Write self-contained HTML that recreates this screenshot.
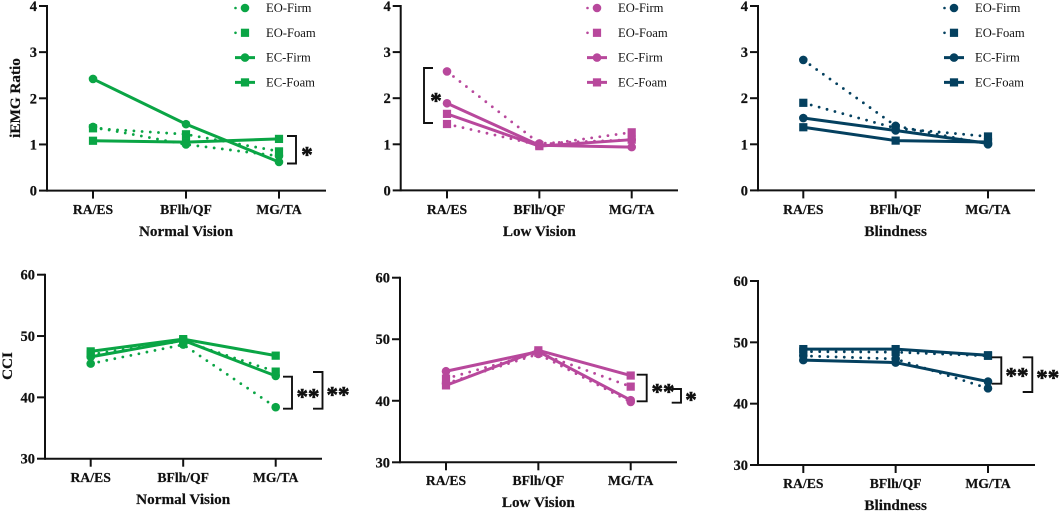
<!DOCTYPE html>
<html lang="en">
<head>
<meta charset="utf-8">
<title>iEMG Ratio and CCI by vision condition</title>
<style>
html,body{margin:0;padding:0;background:#fff;}
svg{display:block;}
text{font-family:"Liberation Serif",serif;fill:#111;}
.b{font-weight:bold;stroke:#111;stroke-width:0.2px;}
.s{font-weight:bold;stroke:#111;stroke-width:0.6px;}
</style>
</head>
<body>
<svg id="chart" xmlns="http://www.w3.org/2000/svg" width="1059" height="512" viewBox="0 0 1059 512"></svg>
<script>
const categories = ['RA/ES', 'BFlh/QF', 'MG/TA'];
const seriesNames = ['EO-Firm', 'EO-Foam', 'EC-Firm', 'EC-Foam'];
const iemgTicks = [0, 1, 2, 3, 4];
const cciTicks = [30, 40, 50, 60];

const normalIemgEoFirm = [1.38, 1.00, 0.75];
const normalIemgEoFoam = [1.35, 1.22, 0.85];
const normalIemgEcFirm = [2.42, 1.44, 0.62];
const normalIemgEcFoam = [1.08, 1.05, 1.12];

const lowIemgEoFirm = [2.58, 1.02, 1.10];
const lowIemgEoFoam = [1.44, 0.98, 1.26];
const lowIemgEcFirm = [1.89, 0.98, 0.94];
const lowIemgEcFoam = [1.66, 0.96, 1.10];

const blindIemgEoFirm = [2.83, 1.40, 1.00];
const blindIemgEoFoam = [1.90, 1.35, 1.17];
const blindIemgEcFirm = [1.57, 1.30, 1.02];
const blindIemgEcFoam = [1.37, 1.08, 1.05];

const normalCciEoFirm = [45.5, 48.6, 38.4];
const normalCciEoFoam = [47.0, 49.2, 44.2];
const normalCciEcFirm = [46.6, 49.3, 43.5];
const normalCciEcFoam = [47.5, 49.5, 46.8];

const lowCciEoFirm = [42.8, 47.6, 39.8];
const lowCciEoFoam = [43.6, 47.8, 42.3];
const lowCciEcFirm = [44.8, 48.0, 40.1];
const lowCciEcFoam = [42.5, 48.2, 44.1];

const blindCciEoFirm = [47.8, 47.3, 42.5];
const blindCciEoFoam = [48.5, 48.4, 47.8];
const blindCciEcFirm = [47.1, 46.7, 43.6];
const blindCciEcFoam = [48.9, 48.9, 47.9];

const GREEN = '#0aa545';
const MAGENTA = '#b8489c';
const NAVY = '#04405f';
const svg = document.getElementById('chart');
const NS = 'http://www.w3.org/2000/svg';

function make(tag, attrs, parent, text) {
  const el = document.createElementNS(NS, tag);
  for (const k in attrs) el.setAttribute(k, attrs[k]);
  if (text !== undefined) el.textContent = text;
  parent.appendChild(el);
  return el;
}

function drawMarker(parent, shape, cx, cy, color) {
  let m;
  if (shape === 'circle') {
    m = make('circle', {cx: cx, cy: cy, r: 4.3, fill: color}, parent);
  } else {
    m = make('rect', {x: cx - 4.1, y: cy - 4.1, width: 8.2, height: 8.2, fill: color}, parent);
  }
  return m;
}

function drawBracket(parent, x1, x2, y1, y2) {
  const p = make('path', {d: 'M' + x1 + ' ' + y1 + 'H' + x2 + 'V' + y2 + 'H' + x1, fill: 'none', stroke: '#111', 'stroke-width': 1.9}, parent);
  
  
}

function drawStars(parent, x, y, label) {
  const t = make('text', {x: x, y: y + 10.5, 'text-anchor': 'middle', 'font-size': 23, class: 's'}, parent, label);
  
  
}

function drawPanel(cfg) {
  const g = make('g', {}, svg);
  
  

  const yMin = cfg.ticks[0];
  const yMax = cfg.ticks[cfg.ticks.length - 1];
  const yScale = v => cfg.yBottom + (v - yMin) / (yMax - yMin) * (cfg.yTop - cfg.yBottom);
  const xScale = i => cfg.xFirst + i * (cfg.xLast - cfg.xFirst) / (categories.length - 1);

  const yAxis = make('line', {x1: cfg.axisX, x2: cfg.axisX, y1: cfg.yTop - 1, y2: cfg.yBottom + 1, stroke: '#111', 'stroke-width': 2}, g);
  
  
  const xAxis = make('line', {x1: cfg.axisX, x2: cfg.xEnd, y1: cfg.yBottom, y2: cfg.yBottom, stroke: '#111', 'stroke-width': 2}, g);
  
  

  cfg.ticks.forEach(v => {
    const y = yScale(v);
    const tick = make('line', {x1: cfg.axisX - 8, x2: cfg.axisX, y1: y, y2: y, stroke: '#111', 'stroke-width': 2}, g);
    
    
    const lab = make('text', {x: cfg.axisX - 10, y: y + 5, 'text-anchor': 'end', 'font-size': 14.5, class: 'b'}, g, String(v));
    
    
  });

  categories.forEach((c, i) => {
    const x = xScale(i);
    const tick = make('line', {x1: x, x2: x, y1: cfg.yBottom, y2: cfg.yBottom + 8, stroke: '#111', 'stroke-width': 2}, g);
    
    
    const lab = make('text', {x: x, y: cfg.tickBase, 'text-anchor': 'middle', 'font-size': 13.7, class: 'b'}, g, c);
    
    
  });

  const xt = make('text', {x: xScale(1), y: cfg.titleBase, 'text-anchor': 'middle', 'font-size': 15.2, class: 'b'}, g, cfg.title);
  
  

  if (cfg.yTitle) {
    const yt = make('text', {x: 0, y: 0, transform: 'translate(' + cfg.yTitleX + ' ' + cfg.yTitleY + ') rotate(-90)', 'text-anchor': 'middle', 'font-size': 15.2, class: 'b'}, g, cfg.yTitle);
    
    
  }

  cfg.series.forEach((vals, s) => {
    const dotted = s < 2;
    const shape = s % 2 === 0 ? 'circle' : 'square';
    const sg = make('g', {}, g);
    
    
    const pts = vals.map((v, i) => xScale(i) + ',' + yScale(v)).join(' ');
    const line = make('polyline', dotted
      ? {points: pts, fill: 'none', stroke: cfg.color, 'stroke-width': 2.8, 'stroke-linecap': 'round', 'stroke-dasharray': '0 8.2'}
      : {points: pts, fill: 'none', stroke: cfg.color, 'stroke-width': 3}, sg);
    
    
    vals.forEach((v, i) => {
      const m = drawMarker(sg, shape, xScale(i), yScale(v), cfg.color);
      
      
    });
  });

  if (cfg.legendX) {
    const lg = make('g', {}, g);
    
    
    seriesNames.forEach((n, s) => {
      const y = 8 + s * 24.8;
      const dotted = s < 2;
      const entry = make('g', {}, lg);
      
      
      if (dotted) {
        make('line', {x1: cfg.legendX - 9.5, x2: cfg.legendX + 9.5, y1: y, y2: y, stroke: cfg.color, 'stroke-width': 2.6, 'stroke-linecap': 'round', 'stroke-dasharray': '0 19'}, entry);
      } else {
        make('line', {x1: cfg.legendX - 10, x2: cfg.legendX + 10, y1: y, y2: y, stroke: cfg.color, 'stroke-width': 3}, entry);
      }
      drawMarker(entry, s % 2 === 0 ? 'circle' : 'square', cfg.legendX, y, cfg.color);
      make('text', {x: cfg.legendX + 21, y: y + 4, 'font-size': 12.6, fill: '#222'}, entry, n);
    });
  }

  cfg.brackets.forEach(b => drawBracket(g, b[0], b[1], b[2], b[3]));
  cfg.stars.forEach(st => drawStars(g, st[0], st[1], st[2]));
}

drawPanel({
  name: 'panel-iemg-normal-vision', color: GREEN, ticks: iemgTicks, title: 'Normal Vision', yTitle: 'iEMG Ratio', yTitleX: 20, yTitleY: 98,
  axisX: 47, xEnd: 326, yTop: 6, yBottom: 190.6, xFirst: 93, xLast: 279, tickBase: 214, titleBase: 236, legendX: 245,
  series: [normalIemgEoFirm, normalIemgEoFoam, normalIemgEcFirm, normalIemgEcFoam],
  brackets: [[287, 296, 136, 163.5]], stars: [[307, 152, '*']]
});
drawPanel({
  name: 'panel-iemg-low-vision', color: MAGENTA, ticks: iemgTicks, title: 'Low Vision',
  axisX: 400.7, xEnd: 678, yTop: 6, yBottom: 190.4, xFirst: 447, xLast: 631.7, tickBase: 214, titleBase: 236, legendX: 597,
  series: [lowIemgEoFirm, lowIemgEoFoam, lowIemgEcFirm, lowIemgEcFoam],
  brackets: [[433, 424, 68, 123]], stars: [[436, 98, '*']]
});
drawPanel({
  name: 'panel-iemg-blindness', color: NAVY, ticks: iemgTicks, title: 'Blindness',
  axisX: 758, xEnd: 1035, yTop: 6, yBottom: 190.4, xFirst: 803.3, xLast: 988, tickBase: 214, titleBase: 236, legendX: 954,
  series: [blindIemgEoFirm, blindIemgEoFoam, blindIemgEcFirm, blindIemgEcFoam],
  brackets: [], stars: []
});
drawPanel({
  name: 'panel-cci-normal-vision', color: GREEN, ticks: cciTicks, title: 'Normal Vision', yTitle: 'CCI', yTitleX: 12, yTitleY: 366,
  axisX: 45, xEnd: 322, yTop: 274.7, yBottom: 458.7, xFirst: 90.7, xLast: 275.7, tickBase: 482, titleBase: 504,
  series: [normalCciEoFirm, normalCciEoFoam, normalCciEcFirm, normalCciEcFoam],
  brackets: [[283, 292, 376.7, 408.7], [313, 322.5, 372, 408.7]], stars: [[308, 394, '**'], [338, 392, '**']]
});
drawPanel({
  name: 'panel-cci-low-vision', color: MAGENTA, ticks: cciTicks, title: 'Low Vision',
  axisX: 400, xEnd: 677, yTop: 277.7, yBottom: 462.3, xFirst: 446, xLast: 630.7, tickBase: 485, titleBase: 507,
  series: [lowCciEoFirm, lowCciEoFoam, lowCciEcFirm, lowCciEcFoam],
  brackets: [[636.7, 646.7, 374.7, 401.3], [671.7, 681, 389, 402.7]], stars: [[663, 389, '**'], [691, 397, '*']]
});
drawPanel({
  name: 'panel-cci-blindness', color: NAVY, ticks: cciTicks, title: 'Blindness',
  axisX: 758, xEnd: 1035, yTop: 281, yBottom: 465, xFirst: 803.3, xLast: 988, tickBase: 488, titleBase: 510,
  series: [blindCciEoFirm, blindCciEoFoam, blindCciEcFirm, blindCciEcFoam],
  brackets: [[991.7, 1001.3, 357.3, 383.7], [1022.7, 1032.3, 357.3, 392]], stars: [[1017, 373, '**'], [1047.7, 375, '**']]
});
</script>
</body>
</html>
